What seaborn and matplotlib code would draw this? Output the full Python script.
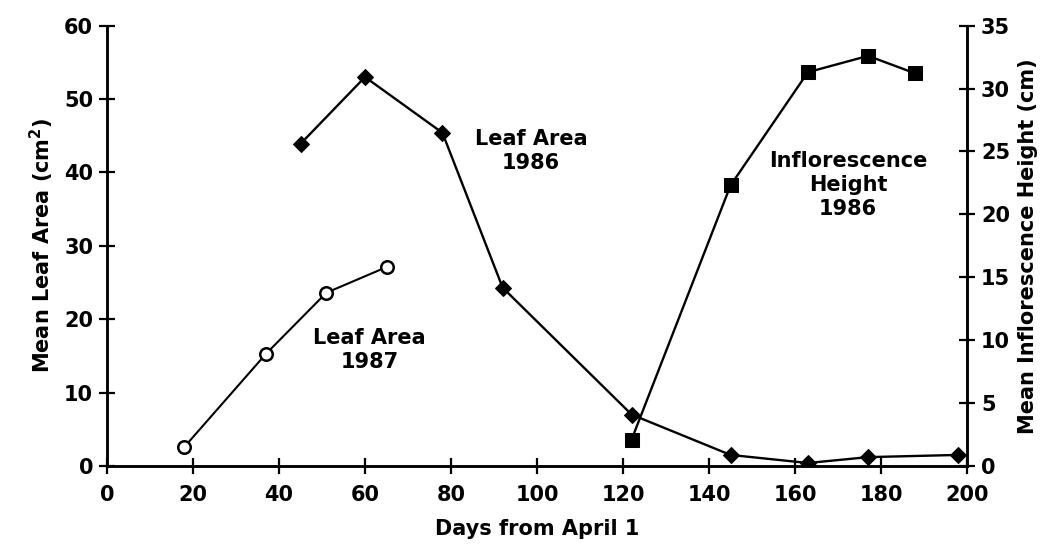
import matplotlib
matplotlib.use('Agg')
import matplotlib.pyplot as plt
import seaborn as sns
import pandas as pd

# Leaf area 1987 (open circles, left axis)
days_1987 = [18, 37, 51, 65]
leaf_1987 = [2.6, 15.3, 23.6, 27.1]

# Leaf area 1986 (filled diamonds, left axis)
days_1986 = [45, 60, 78, 92, 122, 145, 163, 177, 198]
leaf_1986 = [43.9, 53.0, 45.4, 24.3, 7.0, 1.5, 0.4, 1.2, 1.5]

# Inflorescence height 1986 (filled squares, right axis)
days_infl = [122, 145, 163, 177, 188]
infl_1986 = [2.1, 22.3, 31.3, 32.6, 31.2]

sns.set_style('ticks')
plt.rcParams['font.family'] = ['DejaVu Sans']
plt.rcParams['font.weight'] = 'bold'
plt.rcParams['axes.labelweight'] = 'bold'
for key in ('text.color', 'axes.labelcolor', 'xtick.color', 'ytick.color',
            'axes.edgecolor'):
    plt.rcParams[key] = 'black'

fig = plt.figure(figsize=(10.63, 5.58), dpi=100)
ax = fig.add_axes([0.1007, 0.165, 0.809, 0.789])
ax2 = ax.twinx()

df87 = pd.DataFrame({'day': days_1987, 'area': leaf_1987})
df86 = pd.DataFrame({'day': days_1986, 'area': leaf_1986})
dfin = pd.DataFrame({'day': days_infl, 'height': infl_1986})

sns.lineplot(data=df87, x='day', y='area', ax=ax, color='black', lw=1.5,
             marker='o', markersize=9, markerfacecolor='white',
             markeredgecolor='black', markeredgewidth=1.8)
sns.lineplot(data=df86, x='day', y='area', ax=ax, color='black', lw=1.7,
             marker='D', markersize=8, markerfacecolor='black',
             markeredgecolor='black')
sns.lineplot(data=dfin, x='day', y='height', ax=ax2, color='black', lw=1.7,
             marker='s', markersize=10, markerfacecolor='black',
             markeredgecolor='black')

ax.set_xlim(0, 200)
ax.set_ylim(0, 60)
ax2.set_ylim(0, 35)
ax.set_xticks(range(0, 201, 20))
ax.set_yticks(range(0, 61, 10))
ax2.set_yticks(range(0, 36, 5))

for a in (ax, ax2):
    a.spines['top'].set_visible(False)
    for s in ('left', 'right', 'bottom'):
        a.spines[s].set_linewidth(1.8)
    a.tick_params(direction='inout', length=12, width=1.6, labelsize=15, pad=4)
ax.tick_params(axis='x', pad=8)

ax.set_xlabel('Days from April 1', fontsize=15, labelpad=10)
ax.set_ylabel('Mean Leaf Area (cm$^2$)', fontsize=15, labelpad=6)
ax2.set_ylabel('Mean Inflorescence Height (cm)', fontsize=15, labelpad=6)

ax.text(61, 15.8, 'Leaf Area\n1987', ha='center', va='center', fontsize=15,
        linespacing=1.25)
ax.text(98.6, 42.9, 'Leaf Area\n1986', ha='center', va='center', fontsize=15,
        linespacing=1.25)
ax.text(172.3, 38.3, 'Inflorescence\nHeight\n1986', ha='center', va='center',
        fontsize=15, linespacing=1.25)

fig.savefig('out.png', dpi=100)
